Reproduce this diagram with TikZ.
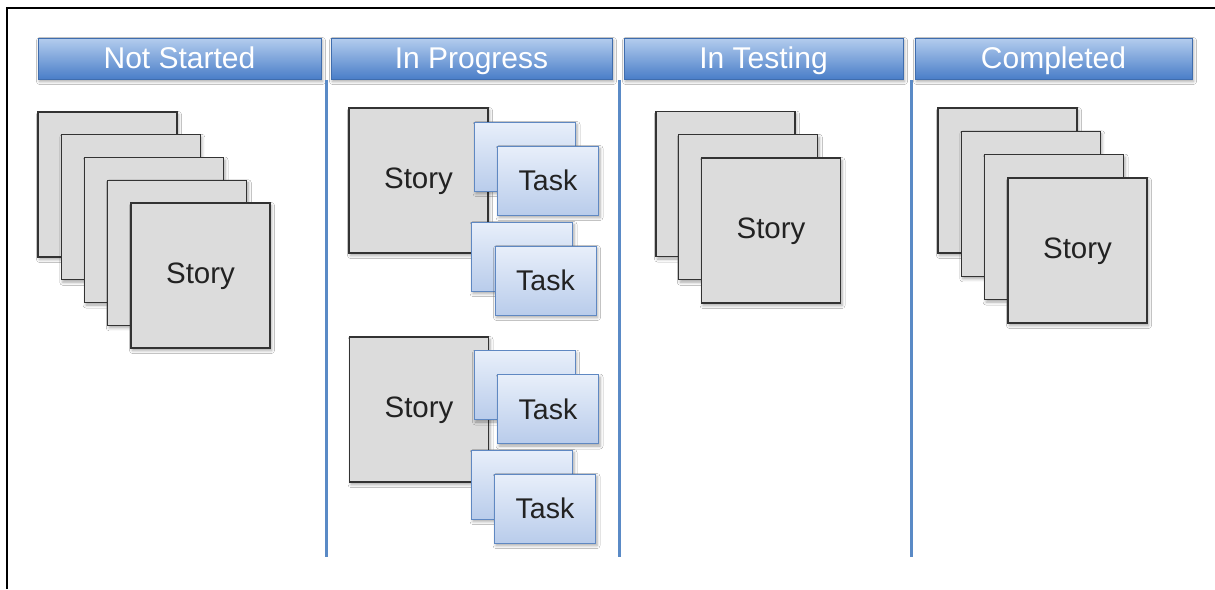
\documentclass[tikz,border=0pt]{standalone}
\usepackage{fontspec}
\setmainfont{Liberation Sans}
\usetikzlibrary{shadows.blur}

\definecolor{cardfill}{HTML}{DCDCDC}
\definecolor{cardline}{HTML}{333333}
\definecolor{cardtext}{HTML}{222222}
\definecolor{tasktop}{HTML}{E8EFFA}
\definecolor{taskbot}{HTML}{B9CCEB}
\definecolor{taskline}{HTML}{5F88C2}
\definecolor{hdrtop}{HTML}{B4CDEE}
\definecolor{hdrbot}{HTML}{4A7EC8}
\definecolor{hdrline}{HTML}{3F6DAE}
\definecolor{lanecol}{HTML}{5A8AC6}

\tikzset{
  softshadow/.style={blur shadow={shadow xshift=1.5pt, shadow yshift=-2.5pt,
      shadow blur radius=3pt, shadow opacity=35}},
  hdr/.style={draw=hdrline, line width=0.8pt, top color=hdrtop, bottom color=hdrbot,
      minimum height=41pt, inner sep=0pt, outer sep=0pt, text=white,
      text height=21pt, text depth=1pt,
      font=\fontsize{30}{32}\selectfont, softshadow},
  story/.style={draw=cardline, line width=1.4pt, fill=cardfill,
      minimum width=139pt, minimum height=145pt, inner sep=0pt, outer sep=0pt,
      text=cardtext, text height=21pt, text depth=6pt,
      font=\fontsize{29.5}{32}\selectfont, softshadow},
  task/.style={draw=taskline, line width=1pt, top color=tasktop, bottom color=taskbot,
      minimum width=101pt, minimum height=69pt, inner sep=0pt, outer sep=0pt,
      text=cardtext, text height=21pt, text depth=1pt,
      font=\fontsize{28.5}{32}\selectfont, softshadow},
  lanesep/.style={draw=lanecol, line width=3pt},
}

\begin{document}
\begin{tikzpicture}[x=1pt, y=-1pt]
  \useasboundingbox (0,0) rectangle (1215,589);
  \fill[white] (0,0) rectangle (1215,589);

  % board frame
  \draw[line width=2pt] (7,589) -- (7,8) -- (1215,8);

  % column headers
  \node[hdr, minimum width=283pt] (h-ns) at (179.5,58.5) {Not Started};
  \node[hdr, minimum width=281pt] (h-ip) at (471.5,58.5) {In Progress};
  \node[hdr, minimum width=279pt] (h-it) at (763.5,58.5) {In Testing};
  \node[hdr, minimum width=277pt] (h-co) at (1053.5,58.5) {Completed};

  % lane separators
  \coordinate (s1t) at (326,80);  \coordinate (s1b) at (326,557);
  \coordinate (s2t) at (619,80);  \coordinate (s2b) at (619,557);
  \coordinate (s3t) at (911,80);  \coordinate (s3b) at (911,557);
  \draw[lanesep] (s1t) -- (s1b);
  \draw[lanesep] (s2t) -- (s2b);
  \draw[lanesep] (s3t) -- (s3b);

  % Not Started: five stacked stories
  \foreach \i in {0,...,3}
    \node[story] (ns-\i) at ({107.5+23.25*\i},{184.5+22.75*\i}) {};
  \node[story] (ns-4) at (200.5,275.5) {Story};

  % In Progress: two stories, each with two pairs of tasks
  \node[story] (ip-s1) at (418.5,180.5) {Story};
  \node[task] (ip-t1a) at (525,156.5) {};
  \node[task] (ip-t1b) at (548,180.5) {Task};
  \node[task] (ip-t1c) at (522,256.5) {};
  \node[task] (ip-t1d) at (545.5,280.5) {Task};

  \node[story] (ip-s2) at (419,409.5) {Story};
  \node[task] (ip-t2a) at (524.5,385) {};
  \node[task] (ip-t2b) at (548,409) {Task};
  \node[task] (ip-t2c) at (522,484.5) {};
  \node[task] (ip-t2d) at (545,508.5) {Task};

  % In Testing: three stacked stories
  \foreach \i in {0,1}
    \node[story] (it-\i) at ({725.5+22.75*\i},{184+23.25*\i}) {};
  \node[story] (it-2) at (771,230.5) {Story};

  % Completed: four stacked stories
  \foreach \i in {0,1,2}
    \node[story] (co-\i) at ({1007.5+23.3*\i},{180.5+23.3*\i}) {};
  \node[story] (co-3) at (1077.5,250.5) {Story};
\end{tikzpicture}
\end{document}
